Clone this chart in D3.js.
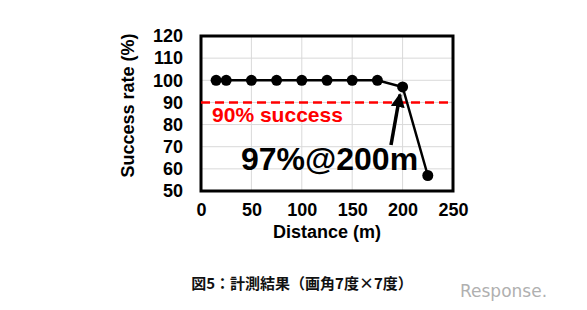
<!DOCTYPE html>
<html><head><meta charset="utf-8">
<script src="https://cdn.jsdelivr.net/npm/d3@7"></script>
<style>body{margin:0;background:#fff;}svg{display:block;}</style>
</head><body>
<svg id="c" width="587" height="310"></svg>
<script>
const distances = [15, 25, 50, 75, 100, 125, 150, 175, 200, 225];
const successRates = [100, 100, 100, 100, 100, 100, 100, 100, 97, 57];
const xTicks = [0, 50, 100, 150, 200, 250];
const yTicks = [50, 60, 70, 80, 90, 100, 110, 120];
const thresholdValue = 90;
const thresholdLabel = "90% success";
const annotationLabel = "97%@200m";
const xTitle = "Distance (m)";
const yTitle = "Success rate (%)";
const caption = "図5：計測結果（画角7度×7度）";

const svg = d3.select("#c");
const L = 201, R = 453, T = 36, B = 191;
const x = d3.scaleLinear().domain([0, 250]).range([L, R]);
const y = d3.scaleLinear().domain([50, 120]).range([B, T]);
const font = "'Liberation Sans', Arial, sans-serif";

// grid
svg.append("g").selectAll("line.gx").data(xTicks.slice(1, -1)).join("line")
  .attr("x1", d => x(d)).attr("x2", d => x(d)).attr("y1", T).attr("y2", B)
  .attr("stroke", "#d9d9d9").attr("stroke-width", 1);
svg.append("g").selectAll("line.gy").data(yTicks.slice(1, -1)).join("line")
  .attr("y1", d => y(d)).attr("y2", d => y(d)).attr("x1", L).attr("x2", R)
  .attr("stroke", "#d9d9d9").attr("stroke-width", 1);

// axes
const xAxis = d3.axisBottom(x).tickValues(xTicks).tickSize(0).tickPadding(12);
const yAxis = d3.axisLeft(y).tickValues(yTicks).tickSize(0).tickPadding(18);
const gx = svg.append("g").attr("transform", `translate(0,${B})`).call(xAxis);
const gy = svg.append("g").attr("transform", `translate(${L},0)`).call(yAxis);
[gx, gy].forEach(g => {
  g.select(".domain").remove();
  g.selectAll("text").attr("font-family", font).attr("font-weight", "bold")
   .attr("font-size", 18).attr("fill", "#000");
});

// border
svg.append("rect").attr("x", L).attr("y", T).attr("width", R - L).attr("height", B - T)
  .attr("fill", "none").attr("stroke", "#000").attr("stroke-width", 3);

// threshold
svg.append("line").attr("x1", L).attr("x2", R).attr("y1", y(thresholdValue)).attr("y2", y(thresholdValue))
  .attr("stroke", "#ff0000").attr("stroke-width", 2.5).attr("stroke-dasharray", "9,5");
svg.append("text").attr("x", x(11)).attr("y", y(81)).text(thresholdLabel)
  .attr("font-family", font).attr("font-weight", "bold").attr("font-size", 21).attr("fill", "#ff0000");

// line + points
const data = distances.map((d, i) => ({d, v: successRates[i]}));
svg.append("path").datum(data)
  .attr("d", d3.line().x(p => x(p.d)).y(p => y(p.v)))
  .attr("fill", "none").attr("stroke", "#000").attr("stroke-width", 2.5);
svg.append("g").selectAll("circle").data(data).join("circle")
  .attr("cx", p => x(p.d)).attr("cy", p => y(p.v)).attr("r", 5.5).attr("fill", "#000");

// arrow
svg.append("defs").append("marker").attr("id", "ah").attr("viewBox", "0 0 10 10")
  .attr("refX", 9).attr("refY", 5).attr("markerWidth", 4).attr("markerHeight", 4)
  .attr("markerUnits", "strokeWidth").attr("orient", "auto")
  .append("path").attr("d", "M0,0 L10,5 L0,10 z").attr("fill", "#000");
svg.append("line").attr("x1", x(188.5)).attr("y1", y(70.8)).attr("x2", x(197.4)).attr("y2", y(93.6))
  .attr("stroke", "#000").attr("stroke-width", 3.5).attr("marker-end", "url(#ah)");

svg.append("text").attr("x", x(39.7)).attr("y", y(59.5)).text(annotationLabel)
  .attr("font-family", font).attr("font-weight", "bold").attr("font-size", 32).attr("fill", "#000");

// titles
svg.append("text").attr("x", (L + R) / 2).attr("y", 238).attr("text-anchor", "middle").text(xTitle)
  .attr("font-family", font).attr("font-weight", "bold").attr("font-size", 18);
svg.append("text").attr("transform", `translate(134,${(T + B) / 2 - 8}) rotate(-90)`).attr("text-anchor", "middle").text(yTitle)
  .attr("font-family", font).attr("font-weight", "bold").attr("font-size", 18);

// caption
svg.append("text").attr("x", 302).attr("y", 289).attr("text-anchor", "middle").text(caption)
  .attr("font-family", "'Noto Sans CJK JP', sans-serif").attr("font-weight", 700).attr("font-size", 15).attr("fill", "#111");

// watermark
svg.append("text").attr("x", 460).attr("y", 297).text("Response.")
  .attr("font-family", "'DejaVu Sans', sans-serif").attr("font-size", 17).attr("fill", "#b0b0b0");
</script>
</body></html>
